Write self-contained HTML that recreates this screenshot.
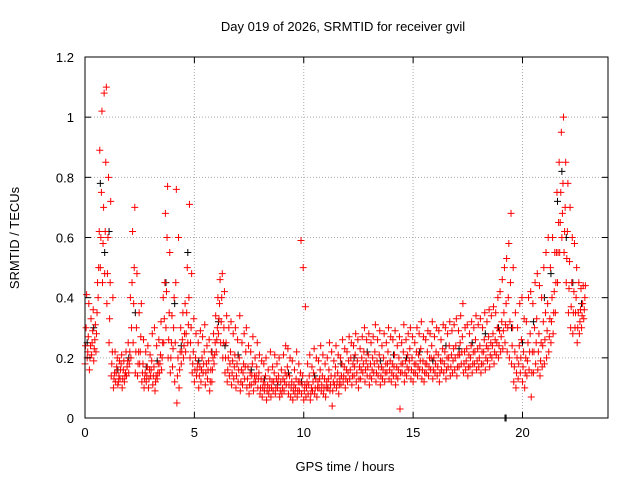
<!DOCTYPE html>
<html><head><meta charset="utf-8"><style>
body{margin:0;background:#fff}
svg{display:block;font-family:"Liberation Sans",sans-serif}
</style></head><body>
<svg id="chart" width="640" height="480">
<rect width="640" height="480" fill="#fff"/>
<text x="343" y="31" font-size="13" text-anchor="middle">Day 019 of 2026, SRMTID for receiver gvil</text>
<text x="345" y="471" font-size="13" text-anchor="middle">GPS time / hours</text>
<text x="19" y="238" font-size="13" text-anchor="middle" transform="rotate(-90 19 238)">SRMTID / TECUs</text>
<g id="grid"></g>
<g id="marks"></g>
<rect x="85" y="57" width="523" height="361" fill="none" stroke="#000" stroke-width="1"/>
<g id="ticks"></g>
</svg>
<script>
const xTicks=[0,5,10,15,20];
const yTicks=[0,0.2,0.4,0.6,0.8,1,1.2];
const yTickLabels=["0","0.2","0.4","0.6","0.8","1","1.2"];
const times=[];
for(let i=0;i<=228;i++)times.push(+(i/10).toFixed(1));
const lo=[.18,.20,.16,.21,.19,.22,.40,.50,.45,.48,.38,.25,.14,.10,.12,.11,.13,.10,.12,.14,.15,.20,.25,.15,.14,.18,.12,.10,.12,.10,.14,.11,.09,.13,.15,.16,.25,.30,.20,.15,.17,.12,.05,.10,.18,.20,.22,.25,.20,.15,.12,.14,.10,.12,.15,.11,.13,.09,.12,.18,.22,.28,.25,.20,.15,.12,.14,.11,.13,.10,.12,.09,.11,.13,.10,.08,.11,.09,.12,.10,.08,.07,.09,.06,.08,.07,.09,.08,.10,.07,.08,.09,.11,.08,.07,.06,.08,.07,.09,.08,.06,.07,.08,.06,.09,.08,.07,.10,.09,.08,.07,.10,.09,.04,.11,.10,.08,.11,.12,.10,.12,.13,.11,.14,.12,.10,.13,.15,.12,.14,.11,.13,.15,.12,.14,.11,.13,.12,.15,.13,.12,.14,.11,.13,.03,.15,.12,.14,.16,.13,.12,.15,.14,.16,.13,.12,.15,.14,.16,.13,.15,.14,.12,.16,.15,.13,.17,.14,.15,.16,.14,.17,.18,.15,.16,.14,.17,.15,.18,.16,.17,.15,.18,.16,.19,.17,.20,.18,.21,.20,.22,.23,.25,.22,.20,.18,.12,.10,.13,.15,.12,.10,.14,.16,.07,.15,.18,.16,.14,.17,.18,.20,.22,.25,.28,.35,.45,.55,.60,.55,.45,.35,.30,.28,.30,.25,.28,.30,.33];
const q1=[.24,.22,.20,.25,.23,.28,.50,.60,.58,.62,.48,.33,.18,.13,.15,.12,.16,.13,.14,.17,.18,.30,.38,.22,.18,.22,.15,.13,.14,.13,.16,.14,.12,.15,.18,.20,.33,.42,.26,.20,.23,.25,.14,.16,.22,.24,.28,.31,.25,.18,.16,.16,.14,.16,.18,.15,.16,.12,.16,.21,.26,.33,.32,.25,.20,.16,.18,.15,.17,.14,.16,.12,.15,.17,.13,.11,.14,.12,.14,.13,.10,.10,.11,.09,.10,.10,.12,.10,.12,.09,.10,.12,.14,.11,.10,.09,.10,.09,.12,.11,.09,.10,.11,.08,.12,.10,.10,.13,.11,.10,.10,.13,.11,.09,.14,.12,.11,.14,.14,.13,.15,.16,.14,.17,.15,.13,.16,.18,.16,.17,.14,.16,.18,.15,.17,.14,.16,.15,.18,.16,.15,.17,.14,.16,.15,.18,.15,.17,.19,.16,.15,.18,.17,.19,.16,.15,.18,.17,.20,.16,.18,.17,.15,.19,.18,.16,.20,.17,.19,.20,.17,.21,.22,.18,.19,.17,.20,.18,.22,.19,.20,.18,.22,.20,.23,.21,.24,.22,.25,.24,.27,.29,.31,.30,.32,.24,.17,.15,.18,.20,.17,.15,.19,.22,.15,.22,.25,.22,.19,.24,.26,.29,.27,.32,.35,.45,.55,.65,.68,.62,.53,.43,.37,.35,.35,.30,.32,.34,.36];
const mid=[.30,.27,.24,.29,.26,.35,.62,.75,.70,.85,.60,.45,.22,.15,.17,.14,.18,.16,.15,.19,.22,.45,.50,.30,.22,.27,.18,.15,.17,.16,.19,.17,.14,.18,.21,.25,.45,.60,.35,.25,.30,.45,.20,.22,.26,.28,.35,.40,.30,.22,.20,.18,.17,.20,.22,.18,.19,.16,.20,.25,.30,.38,.40,.30,.25,.20,.22,.19,.21,.18,.20,.16,.18,.22,.17,.15,.18,.14,.17,.15,.13,.12,.14,.11,.13,.12,.15,.13,.14,.12,.13,.15,.17,.14,.12,.11,.13,.12,.15,.14,.11,.12,.14,.10,.15,.13,.12,.16,.14,.13,.12,.16,.14,.12,.17,.15,.13,.18,.17,.16,.19,.20,.18,.21,.19,.17,.20,.22,.19,.21,.18,.20,.22,.19,.21,.17,.20,.18,.22,.19,.18,.21,.17,.20,.18,.22,.19,.21,.23,.20,.18,.22,.21,.23,.19,.18,.22,.20,.24,.20,.22,.21,.19,.23,.22,.20,.24,.21,.23,.24,.21,.25,.27,.22,.23,.21,.24,.22,.26,.23,.24,.22,.26,.24,.27,.25,.28,.26,.30,.29,.32,.35,.38,.40,.45,.30,.22,.20,.24,.26,.22,.20,.25,.28,.22,.30,.33,.28,.25,.32,.35,.38,.33,.40,.42,.55,.65,.75,.78,.70,.62,.52,.45,.42,.40,.35,.36,.38,.40];
const hi=[.41,.38,.33,.36,.31,.45,.89,1.02,1.08,1.10,.80,.72,.40,.22,.20,.19,.21,.19,.22,.25,.40,.62,.70,.48,.35,.38,.26,.22,.24,.21,.28,.30,.24,.26,.32,.40,.68,.77,.55,.34,.40,.76,.60,.30,.35,.38,.50,.71,.48,.33,.28,.25,.29,.27,.31,.24,.26,.22,.28,.34,.40,.46,.48,.42,.34,.30,.32,.28,.30,.26,.34,.25,.28,.30,.24,.22,.27,.20,.25,.21,.19,.18,.20,.16,.22,.17,.21,.18,.20,.16,.21,.24,.23,.20,.19,.16,.22,.18,.59,.50,.37,.18,.21,.17,.23,.20,.19,.24,.21,.18,.20,.25,.22,.19,.24,.21,.20,.26,.23,.22,.27,.25,.24,.28,.26,.23,.27,.30,.26,.28,.25,.27,.31,.26,.29,.24,.28,.25,.30,.27,.26,.29,.24,.27,.25,.31,.26,.28,.30,.27,.25,.30,.28,.32,.27,.26,.29,.28,.32,.27,.30,.29,.26,.31,.30,.28,.32,.29,.31,.33,.29,.34,.38,.30,.31,.28,.32,.30,.34,.31,.33,.30,.35,.32,.36,.34,.37,.35,.40,.42,.46,.50,.53,.58,.68,.50,.35,.30,.38,.40,.33,.32,.40,.42,.38,.45,.48,.44,.40,.50,.55,.60,.50,.60,.55,.75,.85,.95,1.00,.85,.78,.70,.60,.58,.50,.45,.43,.44,.44];
const blackT=[0.1,0.4,0.7,0.9,1.1,1.5,2.0,2.3,2.8,3.3,3.7,4.1,4.4,4.7,5.2,5.8,6.1,6.4,7.0,7.6,8.2,8.8,9.3,9.9,10.5,11.1,11.7,12.3,12.9,13.5,14.1,14.7,15.3,15.9,16.5,17.1,17.7,18.3,18.9,19.2,19.25,19.5,20.0,20.5,21.0,21.3,21.6,21.8,22.0,22.3,22.7];
const blackV=[.25,.30,.78,.55,.62,.16,.20,.35,.17,.19,.45,.38,.24,.55,.19,.22,.32,.24,.21,.16,.13,.11,.15,.12,.14,.10,.18,.20,.22,.19,.21,.20,.22,.19,.24,.23,.25,.28,.30,0,0,.30,.25,.32,.40,.48,.72,.82,.60,.45,.38];

const X0=85,X1=610,Y0=418,Y1=57;
const xs=v=>X0+(v/24)*(X1-X0);
const ys=v=>Y0-(v/1.2)*(Y0-Y1);
const NS="http://www.w3.org/2000/svg";
const grid=document.getElementById('grid'),ticks=document.getElementById('ticks'),marks=document.getElementById('marks');
function line(p,x1,y1,x2,y2,st,dash,name){const l=document.createElementNS(NS,'line');l.setAttribute('x1',x1);l.setAttribute('y1',y1);l.setAttribute('x2',x2);l.setAttribute('y2',y2);l.setAttribute('stroke',st);if(dash)l.setAttribute('stroke-dasharray',dash);


p.appendChild(l);}
function text(x,y,s,anchor,name){const t=document.createElementNS(NS,'text');t.setAttribute('x',x);t.setAttribute('y',y);t.setAttribute('font-size','13');t.setAttribute('text-anchor',anchor);t.textContent=s;


ticks.appendChild(t);}
xTicks.forEach(v=>{const x=xs(v);if(v>0)line(grid,x,Y1,x,Y0,'#aaa','1,2','x-gridline');line(ticks,x,Y0,x,Y0-6,'#000',null,'x-tick');line(ticks,x,Y1,x,Y1+6,'#000',null,'x-tick');text(x,437,String(v),'middle','x-tick-label');});
yTicks.forEach((v,i)=>{const y=ys(v);if(v>0&&v<1.2)line(grid,X0,y,608,y,'#aaa','1,2','y-gridline');line(ticks,X0,y,X0+6,y,'#000',null,'y-tick');line(ticks,608,y,602,y,'#000',null,'y-tick');text(74,y+5,yTickLabels[i],'end','y-tick-label');});
function plus(t,v,col,name){const x=xs(t),y=ys(v);const p=document.createElementNS(NS,'path');p.setAttribute('d',`M${x-3.5},${y}h7M${x},${y-3.5}v7`);p.setAttribute('stroke',col);p.setAttribute('stroke-width','1');


marks.appendChild(p);}
blackT.forEach((t,i)=>plus(t,blackV[i],'#000','black-point'));
times.forEach((t,i)=>{plus(t,lo[i],'#f00','red-point');plus(t+0.025,q1[i],'#f00','red-point');plus(t+0.05,mid[i],'#f00','red-point');plus(t+0.075,hi[i],'#f00','red-point');});
</script>
</body></html>
